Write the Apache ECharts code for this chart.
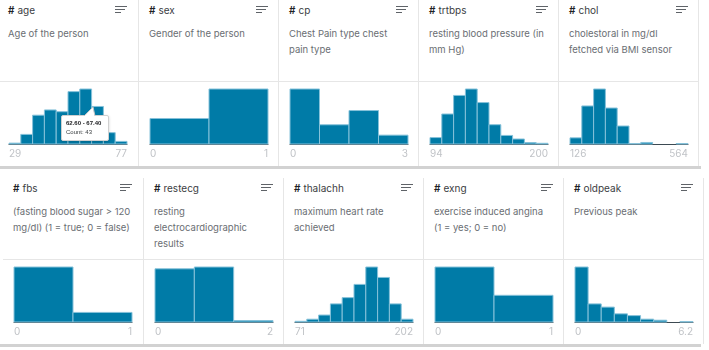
<!DOCTYPE html>
<html>
<head>
<meta charset="utf-8">
<script src="https://cdn.jsdelivr.net/npm/echarts@6/dist/echarts.min.js"></script>
<style>
  body { margin: 0; width: 709px; height: 350px; overflow: hidden; background: #fff; font-family: Inter, sans-serif; position: relative; }
  .card { position: absolute; width: 140px; height: 166px; box-sizing: border-box; }
  .card.bl { border-left: 1px solid #e6e6e6; }
  .card.br { border-right: 1px solid #e6e6e6; width: 141px; }
  .hd { position: absolute; left: 10px; top: 4px; font-size: 10px; line-height: 12px; color: #3c4043; white-space: nowrap; }
  .hash { font-weight: 600; color: #202124; margin-right: 3px; }
  .sort { position: absolute; left: 117px; top: 6px; width: 12px; }
  .sort i { display: block; height: 1px; background: #5f6368; margin-bottom: 2px; }
  .desc { position: absolute; left: 10px; top: 26px; font-size: 9.5px; line-height: 16px; color: #6a6e73; white-space: nowrap; }
  .sep { position: absolute; left: 0; right: 0; top: 81px; border-top: 1px solid #e6e6e6; }
  .plot { position: absolute; left: 8px; top: 82px; width: 124px; height: 84px; }
  .band { position: absolute; left: 0; width: 701px; height: 3px; background: #d2d2d2; }
</style>
</head>
<body>
<div class="band" style="top:166px"></div>
<div class="band" style="top:344px"></div>
<script>
const columns = ['age', 'sex', 'cp', 'trtbps', 'chol', 'fbs', 'restecg', 'thalachh', 'exng', 'oldpeak'];
const descriptions = [
  ['Age of the person'],
  ['Gender of the person'],
  ['Chest Pain type chest', 'pain type'],
  ['resting blood pressure (in', 'mm Hg)'],
  ['cholestoral in mg/dl', 'fetched via BMI sensor'],
  ['(fasting blood sugar > 120', 'mg/dl) (1 = true; 0 = false)'],
  ['resting', 'electrocardiographic', 'results'],
  ['maximum heart rate', 'achieved'],
  ['exercise induced angina', '(1 = yes; 0 = no)'],
  ['Previous peak']
];
const mins = [29, 0, 0, 94, 126, 0, 0, 71, 0, 0];
const maxs = [77, 1, 3, 200, 564, 1, 2, 202, 1, 6.2];

const ageCounts = [1, 11, 33, 39, 37, 60, 63, 43, 13, 3];
const sexCounts = [96, 207];
const cpCounts = [143, 50, 87, 23];
const trtbpsCounts = [9, 42, 68, 77, 58, 27, 12, 7, 2, 1];
const cholCounts = [12, 74, 107, 70, 35, 1, 3, 0, 0, 1];
const fbsCounts = [258, 45];
const restecgCounts = [147, 152, 4];
const thalachhCounts = [1, 4, 10, 26, 35, 54, 79, 64, 26, 4];
const exngCounts = [204, 99];
const oldpeakCounts = [155, 51, 42, 23, 18, 8, 5, 0, 1];

const allCounts = [ageCounts, sexCounts, cpCounts, trtbpsCounts, cholCounts,
  fbsCounts, restecgCounts, thalachhCounts, exngCounts, oldpeakCounts];

// card that shows the hover box, and which bin
const tipColumn = 0;
const tipBin = 7;

const BAR = '#007ba7';
const BAR_EDGE = '#86c2da';

function makeCard(i) {
  const row = i < 5 ? 0 : 1;
  const col = i % 5;
  const left = (row === 0 ? -2 : 3) + col * 140;
  const top = row === 0 ? 0 : 178;
  const card = document.createElement('div');
  card.className = 'card' + (col > 0 ? ' bl' : '') + (col === 4 ? ' br' : '');
  card.style.left = left + 'px';
  card.style.top = top + 'px';
  card.innerHTML =
    '<div class="hd"><span class="hash">#</span>' + columns[i] + '</div>' +
    '<div class="sort"><i style="width:12px"></i><i style="width:10px"></i><i style="width:6px"></i></div>' +
    '<div class="desc">' + descriptions[i].join('<br>') + '</div>' +
    '<div class="sep"></div>';
  const plot = document.createElement('div');
  plot.className = 'plot';
  card.appendChild(plot);
  document.body.appendChild(card);
  return plot;
}

function drawHist(el, i) {
  const lo = mins[i], hi = maxs[i], counts = allCounts[i];
  const w = (hi - lo) / counts.length;
  const bins = counts.map((c, k) => [lo + w * k, lo + w * (k + 1), c]);
  const chart = echarts.init(el);
  const opt = {
    animation: false,
    grid: { left: 2, right: 2, top: 7, bottom: 22 },
    xAxis: {
      type: 'value', min: lo, max: hi,
      splitLine: { show: false },
      axisTick: { show: false },
      axisLine: { show: true, lineStyle: { color: '#3d4a52', width: 1 } },
      axisLabel: {
        color: '#c0c3c7', fontSize: 10, fontFamily: 'Inter', margin: 5,
        showMinLabel: true, showMaxLabel: true,
        alignMinLabel: 'left', alignMaxLabel: 'right',
        formatter: v => (v === lo || v === hi) ? String(v) : ''
      }
    },
    yAxis: { type: 'value', min: 0, max: Math.max(...counts), show: false },
    series: [{
      type: 'custom',
      data: bins,
      encode: { x: [0, 1], y: 2 },
      renderItem: (params, api) => {
        if (!api.value(2)) return null;
        const p0 = api.coord([api.value(0), api.value(2)]);
        const p1 = api.coord([api.value(1), 0]);
        return {
          type: 'rect',
          shape: { x: p0[0], y: p0[1], width: p1[0] - p0[0], height: p1[1] - p0[1] },
          style: { fill: BAR, stroke: BAR_EDGE, lineWidth: 1 }
        };
      }
    }]
  };
  if (i === tipColumn) {
    opt.tooltip = {
      trigger: 'item', triggerOn: 'none', alwaysShowContent: true,
      transitionDuration: 0,
      position: [55, 33],
      padding: [3, 4],
      backgroundColor: '#fff',
      borderColor: '#d0d0d0', borderWidth: 1,
      extraCssText: 'box-shadow:0 1px 3px rgba(0,0,0,0.18);border-radius:2px;width:38px;',
      formatter: p => {
        const d = p.data;
        return '<svg style="position:absolute;left:22px;top:-10px;overflow:visible" width="12" height="10">' +
          '<polygon points="0,10.5 9,1 11,10.5" fill="#fff"/>' +
          '<polyline points="0,10 9,1 11,10" fill="none" stroke="#c8c8c8" stroke-width="1"/></svg>' +
          '<div style="font-size:6px;line-height:9px;font-weight:700;color:#202124;white-space:nowrap">' +
          d[0].toFixed(2) + ' - ' + d[1].toFixed(2) + '</div>' +
          '<div style="font-size:6px;line-height:9px;color:#3c4043;white-space:nowrap">Count: ' + d[2] + '</div>';
      }
    };
  }
  chart.setOption(opt);
  if (i === tipColumn) {
    chart.dispatchAction({ type: 'showTip', seriesIndex: 0, dataIndex: tipBin });
  }
}

columns.forEach((c, i) => drawHist(makeCard(i), i));
</script>
</body>
</html>
